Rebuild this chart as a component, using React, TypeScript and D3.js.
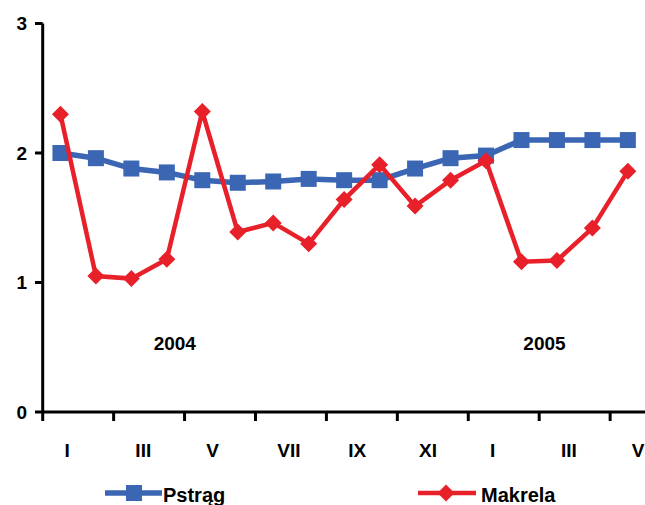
import React, { useEffect, useRef } from "react";
import * as d3 from "d3";

const categories = ["I-04","II-04","III-04","IV-04","V-04","VI-04","VII-04","VIII-04","IX-04","X-04","XI-04","XII-04","I-05","II-05","III-05","IV-05","V-05"];
const tickLabels = ["I","","III","","V","","VII","","IX","","XI","","I","","III","","V"];
const pstrag = [2.00,1.96,1.88,1.85,1.79,1.77,1.78,1.80,1.79,1.79,1.88,1.96,1.98,2.10,2.10,2.10,2.10];
const makrela = [2.30,1.05,1.03,1.18,2.32,1.39,1.46,1.30,1.64,1.91,1.59,1.79,1.94,1.16,1.17,1.42,1.86];
const yTicks = [0,1,2,3];
const yearLabels = ["2004", "2005"];
const yearCats = ["IV-04", "II-05"];

const W = 645, H = 505;
const BLUE = "#3b66b4";
const RED = "#e8202a";
const FONT = "'Liberation Sans', Arial, sans-serif";

export default function App() {
  const ref = useRef<SVGSVGElement>(null);
  useEffect(() => {
    document.body.style.margin = "0";
    const svg = d3.select(ref.current);
    svg.selectAll("*").remove();
    const x = d3.scaleBand<string>().domain(categories).range([42.7, 645.6]);
    const y = d3.scaleLinear().domain([0, 3]).range([412, 23.5]);
    const cx = (c: string) => (x(c) as number) + x.bandwidth() / 2;

    // axes
    svg.append("line").attr("x1", 42.7).attr("x2", 645.6).attr("y1", y(0)).attr("y2", y(0))
      .attr("stroke", "#000").attr("stroke-width", 3);
    svg.append("line").attr("x1", 42.7).attr("x2", 42.7).attr("y1", y(3)).attr("y2", y(0))
      .attr("stroke", "#000").attr("stroke-width", 3);
    yTicks.forEach(t => {
      svg.append("line").attr("x1", 35).attr("x2", 42.7).attr("y1", y(t)).attr("y2", y(t))
        .attr("stroke", "#000").attr("stroke-width", 3);
      svg.append("text").attr("x", 27).attr("y", y(t)).attr("dy", "0.36em").attr("text-anchor", "end")
        .attr("font-family", FONT).attr("font-weight", "bold").attr("font-size", 19).text(String(t));
    });
    categories.forEach((c, i) => {
      if (i % 2 === 0) {
        const tx = (x(c) as number);
        svg.append("line").attr("x1", tx).attr("x2", tx).attr("y1", y(0)).attr("y2", y(0) + 9)
          .attr("stroke", "#000").attr("stroke-width", 3);
      }
      if (tickLabels[i]) {
        svg.append("text").attr("x", cx(c) + 4).attr("y", 457).attr("text-anchor", "start")
          .attr("font-family", FONT).attr("font-weight", "bold").attr("font-size", 19).text(tickLabels[i]);
      }
    });

    const yearOffsets = [8, 23];
    yearLabels.forEach((lbl, i) => {
      svg.append("text").attr("x", cx(yearCats[i]) + yearOffsets[i]).attr("y", 350).attr("text-anchor", "middle")
        .attr("font-family", FONT).attr("font-weight", "bold").attr("font-size", 19).text(lbl);
    });

    const line = d3.line<number>().x((_, i) => cx(categories[i])).y(d => y(d));
    // Pstrag
    svg.append("path").attr("d", line(pstrag)).attr("fill", "none").attr("stroke", BLUE).attr("stroke-width", 5.5);
    svg.selectAll(".sq").data(pstrag).enter().append("rect")
      .attr("x", (_, i) => cx(categories[i]) - 8).attr("y", d => y(d) - 8)
      .attr("width", 16).attr("height", 16).attr("fill", BLUE);
    // Makrela
    svg.append("path").attr("d", line(makrela)).attr("fill", "none").attr("stroke", RED).attr("stroke-width", 4.5);
    const diamond = (px: number, py: number, r: number) =>
      `M${px},${py - r}L${px + r},${py}L${px},${py + r}L${px - r},${py}Z`;
    svg.selectAll(".dm").data(makrela).enter().append("path")
      .attr("d", (d, i) => diamond(cx(categories[i]), y(d), 8.5)).attr("fill", RED);

    // legend
    const ly = 493;
    svg.append("line").attr("x1", 105).attr("x2", 162).attr("y1", ly).attr("y2", ly).attr("stroke", BLUE).attr("stroke-width", 5.5);
    svg.append("rect").attr("x", 134 - 8).attr("y", ly - 8).attr("width", 16).attr("height", 16).attr("fill", BLUE);
    svg.append("text").attr("x", 163).attr("y", 502).attr("font-family", FONT).attr("font-weight", "bold")
      .attr("font-size", 20).text("Pstrąg");
    svg.append("line").attr("x1", 418).attr("x2", 476).attr("y1", ly).attr("y2", ly).attr("stroke", RED).attr("stroke-width", 4.5);
    svg.append("path").attr("d", diamond(446, ly, 8.5)).attr("fill", RED);
    svg.append("text").attr("x", 481).attr("y", 502).attr("font-family", FONT).attr("font-weight", "bold")
      .attr("font-size", 20).text("Makrela");
  }, []);
  return <svg ref={ref} width={W} height={H} style={{ display: "block", background: "#fff" }} />;
}
